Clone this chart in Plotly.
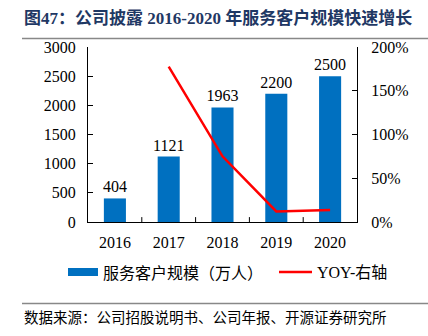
import plotly.graph_objects as go

years = ["2016", "2017", "2018", "2019", "2020"]
clients = [404, 1121, 1963, 2200, 2500]
yoy = [None, 177.5, 75.1, 12.1, 13.6]
left_ticks = [0, 500, 1000, 1500, 2000, 2500, 3000]
right_ticks = [0, 50, 100, 150, 200]

title_text = "图47：公司披露 2016-2020 年服务客户规模快速增长"
source_text = "数据来源：公司招股说明书、公司年报、开源证券研究所"
bar_name = "服务客户规模（万人）"
line_name = "YOY-右轴"

SERIF = "Liberation Serif, Times New Roman, Noto Sans CJK SC"
BLUE = "#0070C0"
RED = "#FF0000"

fig = go.Figure()
fig.add_trace(go.Bar(
    x=years, y=clients, marker=dict(color=BLUE, line=dict(width=0)),
    width=0.41, text=[str(v) for v in clients], textposition="outside",
    constraintext="none",
    textfont=dict(family=SERIF, size=16, color="#000"), cliponaxis=False,
    name=bar_name, showlegend=False,
))
fig.add_trace(go.Scatter(
    x=years, y=yoy, mode="lines", line=dict(color=RED, width=2.5),
    yaxis="y2", name=line_name, showlegend=False,
))

W, H = 428, 336
L, R, T, B = 88, 357, 47, 222

fig.update_layout(
    width=W, height=H,
    margin=dict(l=L, r=W - R, t=T, b=H - B),
    paper_bgcolor="white", plot_bgcolor="white",
    font=dict(family=SERIF, size=15, color="#000"),
    xaxis=dict(
        type="category", showline=True, linecolor="#000", linewidth=1,
        ticks="", tickfont=dict(family=SERIF, size=16), mirror=False,
        showgrid=False, zeroline=False, ticklabelstandoff=6,
    ),
    yaxis=dict(
        range=[0, 3000], tickvals=left_ticks, showline=True, linecolor="#000",
        linewidth=1, ticks="inside", ticklen=5, tickcolor="#000",
        showgrid=False, zeroline=False, tickfont=dict(family=SERIF, size=16),
        ticklabelstandoff=8,
    ),
    yaxis2=dict(
        range=[0, 200], tickvals=right_ticks,
        ticktext=[f"{v}%" for v in right_ticks], overlaying="y",
        side="right", showline=True, linecolor="#000", linewidth=1,
        ticks="inside", ticklen=5, tickcolor="#000", showgrid=False,
        zeroline=False, tickfont=dict(family=SERIF, size=16),
        ticklabelstandoff=10,
    ),
    bargap=0.59,
)

# x-axis ticks at category boundaries (pointing up)
for i in range(1, len(years)):
    fig.add_shape(type="line", xref="x", yref="paper", x0=i - 0.5, x1=i - 0.5,
                  y0=0, y1=0.028, line=dict(color="#000", width=1))

def px(x):
    return (x - L) / (R - L)

def py(y):
    return (B - y) / (B - T)

# title
fig.add_annotation(text="<b>" + title_text + "</b>", xref="paper", yref="paper",
                   x=px(22), y=py(18), xanchor="left", yanchor="middle",
                   showarrow=False, font=dict(family=SERIF, size=17, color="#1F3864"))
fig.add_shape(type="line", xref="paper", yref="paper", x0=px(22), x1=px(428),
              y0=py(38.5), y1=py(38.5), line=dict(color="#888", width=1.5))
# legend
fig.add_shape(type="rect", xref="paper", yref="paper", x0=px(68), x1=px(98),
              y0=py(268), y1=py(276), fillcolor=BLUE, line=dict(width=0))
fig.add_annotation(text=bar_name, xref="paper", yref="paper", x=px(101), y=py(272),
                   xanchor="left", yanchor="middle", showarrow=False,
                   font=dict(family="Noto Sans CJK SC", size=16, color="#000"))
fig.add_shape(type="line", xref="paper", yref="paper", x0=px(279), x1=px(312),
              y0=py(272), y1=py(272), line=dict(color=RED, width=2.5))
fig.add_annotation(text=line_name, xref="paper", yref="paper", x=px(315), y=py(272),
                   xanchor="left", yanchor="middle", showarrow=False,
                   font=dict(family=SERIF, size=16, color="#000"))
# source
fig.add_shape(type="line", xref="paper", yref="paper", x0=px(22), x1=px(428),
              y0=py(303.5), y1=py(303.5), line=dict(color="#888", width=1.5))
fig.add_annotation(text=source_text, xref="paper", yref="paper", x=px(22), y=py(316),
                   xanchor="left", yanchor="middle", showarrow=False,
                   font=dict(family="Noto Sans CJK SC", size=14.5, color="#000"))

fig.write_html("out.html")
